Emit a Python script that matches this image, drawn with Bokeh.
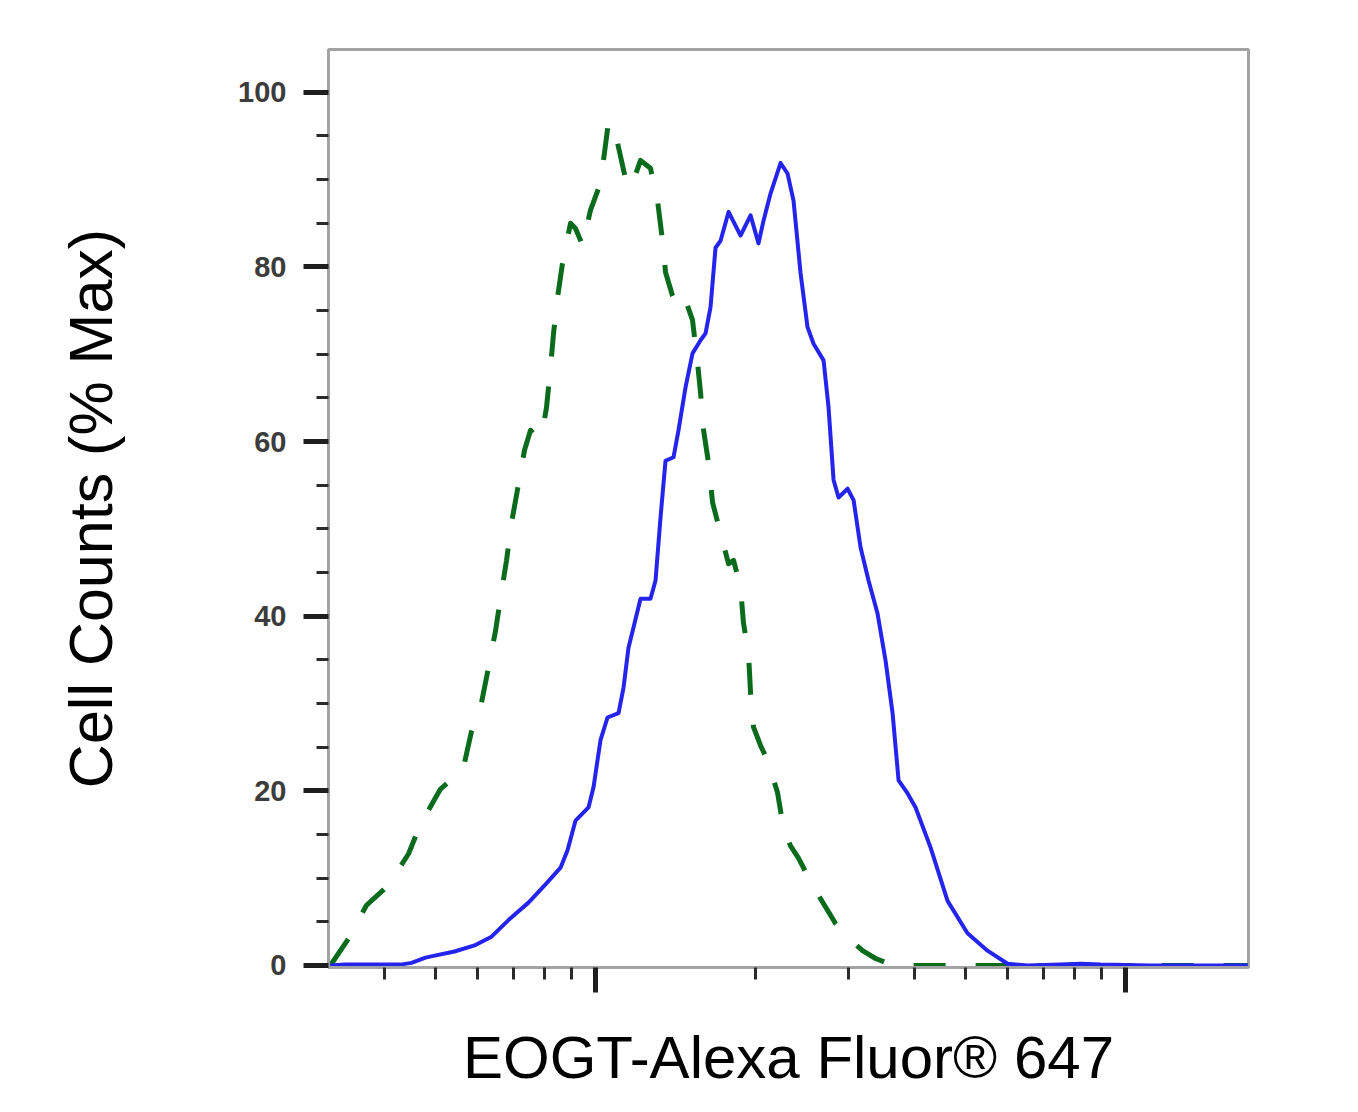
from bokeh.plotting import figure
from bokeh.models import Range1d, FixedTicker
from bokeh.embed import file_html
from bokeh.resources import INLINE

# Isotype control (green dashed)
control_x = [316, 340.5, 369.8, 406.8, 443.9, 467.6, 509.9, 532.6, 561.2, 583.4,
             609.3, 631.0, 647.6, 664.7, 679.4, 694.3, 712.6, 734.5, 754.0, 773.9,
             790.9, 808.2, 822.5, 833.4, 847.9, 866.4, 897.1, 916.9, 945.1, 978.5,
             1021.9, 1058.1, 1100.4, 1149.0, 1179.4, 1215.9, 1269.8, 1309.2, 1337.9, 1355.5,
             1397.3, 1434.2, 1478.5, 1524.2, 1557.8, 1578.3, 1599.1, 1634.3, 1663.1, 1721.6,
             1782.5, 1821.8, 1877.7, 1902.0, 1944.1, 1961.2, 1986.6, 2047.9, 2111.1, 2205.0,
             2263.1, 2333.1, 2415.4, 2511.9, 2624.0, 2837.1, 3002.4, 3190.6, 3375.9, 3572.1,
             3763.3, 17000]
control_y = [0, 2.9, 6.9, 9.2, 12.8, 16.2, 20.2, 21.2, 22.2, 26.8,
             30.1, 34.7, 38.3, 42.8, 46.4, 50.7, 54.5, 59.0, 61.3, 60.5,
             60.5, 63.9, 68.5, 72.4, 76.5, 80.4, 85.0, 84.4, 82.5, 86.5,
             89.6, 96.6, 94.2, 89.1, 89.9, 92.2, 91.3, 87.6, 83.0, 79.4,
             76.7, 75.3, 76.2, 73.9, 69.0, 65.6, 61.3, 57.5, 53.0, 49.5,
             46.0, 46.4, 43.3, 39.2, 35.7, 31.2, 27.3, 25.2, 23.5, 19.8,
             15.7, 13.7, 12.3, 10.3, 8.2, 4.8, 3.1, 1.7, 0.8, 0.2,
             0.0, 0.0]

# EOGT stained (blue solid)
eogt_x = [316, 337.5, 428.6, 449.6, 477.8, 494.7, 542.0, 591.1, 636.5, 685.2,
          747.4, 804.8, 859.0, 885.5, 916.9, 970.0, 991.3, 1021.9, 1053.5, 1105.1,
          1129.3, 1154.0, 1179.4, 1215.9, 1269.8, 1297.9, 1326.3, 1355.5, 1403.3, 1434.2,
          1478.5, 1524.2, 1578.3, 1612.8, 1648.2, 1684.4, 1721.6, 1782.5, 1877.7, 1961.2,
          2030.2, 2074.9, 2139.0, 2234.1, 2302.9, 2363.6, 2436.9, 2511.9, 2578.6, 2693.2,
          2752.2, 2812.8, 2874.5, 2989.3, 3068.2, 3162.3, 3274.3, 3405.0, 3525.9, 3634.7,
          3730.6, 3880.0, 4016.7, 4287.6, 4615.1, 5033.1, 5490.0, 5989.6, 6533.5, 7540.5,
          8225.4, 8971.6, 11148, 17000]
eogt_y = [0, 0.1, 0.1, 0.3, 0.9, 1.1, 1.6, 2.3, 3.3, 5.2,
          7.2, 9.3, 11.2, 13.2, 16.6, 18.1, 20.4, 25.8, 28.4, 28.9,
          31.8, 36.4, 38.7, 42.0, 42.0, 44.1, 51.3, 57.8, 58.2, 61.3,
          66.2, 70.1, 71.6, 72.4, 75.4, 82.2, 83.0, 86.3, 83.6, 85.9,
          82.7, 85.3, 88.4, 91.9, 90.7, 87.6, 79.3, 73.1, 71.2, 69.3,
          63.9, 55.6, 53.6, 54.6, 53.3, 47.9, 44.1, 40.3, 34.9, 28.9,
          21.2, 19.7, 18.1, 13.5, 7.4, 3.7, 1.7, 0.2, 0, 0.1,
          0.2, 0.1, 0, 0]

y_major = [0, 20, 40, 60, 80, 100]
y_minor = [5, 10, 15, 25, 30, 35, 45, 50, 55, 65, 70, 75, 85, 90, 95]
x_major = [1000, 10000]
x_minor = [400, 500, 600, 700, 800, 900, 2000, 3000, 4000, 5000, 6000, 7000, 8000, 9000]

p = figure(width=1288, height=1097, x_axis_type="log",
           x_range=Range1d(313.5, 17060), y_range=Range1d(-0.23, 104.9),
           output_backend="svg", toolbar_location=None,
           min_border_left=328, min_border_top=49, min_border_bottom=130, min_border_right=40)

p.background_fill_color = "white"
p.border_fill_color = "white"
p.outline_line_color = "#a3a3a3"
p.outline_line_width = 3
p.grid.visible = False

p.line(control_x, control_y, line_color="#0b6b1c", line_width=5, line_dash="32 30",
       line_join="round")
p.line(eogt_x, eogt_y, line_color="#2424ec", line_width=4, line_join="round")

grey_axis = "#a3a3a3"
for ax in (p.xaxis[0], p.yaxis[0]):
    ax.axis_line_color = grey_axis
    ax.axis_line_width = 3
    ax.major_tick_line_color = "#1e1e1e"
    ax.minor_tick_line_color = "#2a2a2a"
    ax.major_tick_in = 0
    ax.minor_tick_in = 0
    ax.major_tick_out = 25
    ax.minor_tick_out = 12
    ax.major_tick_line_width = 5
    ax.minor_tick_line_width = 3

p.yaxis.ticker = FixedTicker(ticks=y_major, minor_ticks=y_minor)
p.yaxis.major_label_text_font = "Liberation Sans"
p.yaxis.major_label_text_font_size = "29px"
p.yaxis.major_label_text_font_style = "bold"
p.yaxis.major_label_text_color = "#3c3c3c"
p.yaxis.major_label_standoff = 17
p.yaxis.axis_label = "Cell Counts (% Max)"
p.yaxis.axis_label_text_font = "Liberation Sans"
p.yaxis.axis_label_text_font_style = "normal"
p.yaxis.axis_label_text_font_size = "61px"
p.yaxis.axis_label_text_color = "black"
p.yaxis.axis_label_standoff = 110

p.xaxis.ticker = FixedTicker(ticks=x_major, minor_ticks=x_minor)
p.xaxis.major_label_overrides = {1000: "", 10000: ""}
p.xaxis.major_label_text_font_size = "10px"
p.xaxis.major_label_standoff = 0
p.xaxis.axis_label = "EOGT-Alexa Fluor® 647"
p.xaxis.axis_label_text_font = "Liberation Sans"
p.xaxis.axis_label_text_font_style = "normal"
p.xaxis.axis_label_text_font_size = "60px"
p.xaxis.axis_label_text_color = "black"
p.xaxis.axis_label_standoff = 31

open("out.html", "w").write(file_html(p, INLINE))
